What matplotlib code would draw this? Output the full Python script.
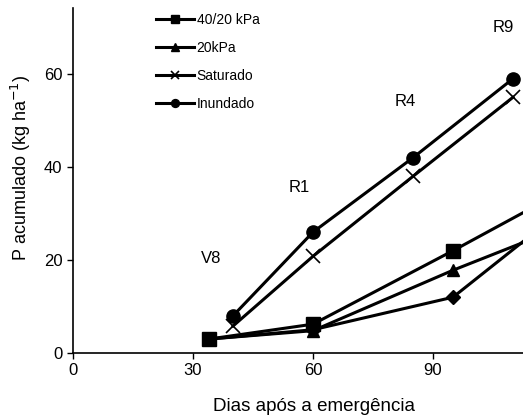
import matplotlib
matplotlib.use("Agg")
import matplotlib.pyplot as plt

plt.rcParams['font.family'] = ['Liberation Sans', 'DejaVu Sans']

# Data (days after emergence, accumulated P)
days_low = [34, 60, 95, 125]
p_4020 = [3.0, 6.2, 22.0, 36.0]
p_20 = [3.0, 4.8, 17.8, 28.0]
p_diamond = [3.0, 5.0, 12.0, 32.5]

days_high = [40, 60, 85, 110]
p_saturado = [5.8, 20.8, 38.0, 55.0]
p_inundado = [8.0, 26.0, 42.0, 59.0]

stage_labels = ["V8", "R1", "R4", "R9"]
stage_x = [34.5, 56.5, 83.0, 107.5]
stage_y = [20.3, 35.7, 54.0, 70.0]

xticks = [0, 30, 60, 90]
yticks = [0, 20, 40, 60]

fig = plt.figure(figsize=(5.23, 4.17), dpi=100)
ax = fig.add_axes([73/523, 64/417, 450/523, 345/417])

lw = 2.2
ax.plot(days_low, p_4020, color='black', lw=lw, marker='s', ms=10, label='40/20 kPa')
ax.plot(days_low, p_20, color='black', lw=lw, marker='^', ms=9, label='20kPa')
ax.plot(days_high, p_saturado, color='black', lw=lw, marker='x', ms=10, mew=1.2, label='Saturado')
ax.plot(days_high, p_inundado, color='black', lw=lw, marker='o', ms=9.5, label='Inundado')
ax.plot(days_low, p_diamond, color='black', lw=lw, marker='D', ms=7, label='_nolegend_')

for t, x, y in zip(stage_labels, stage_x, stage_y):
    ax.text(x, y, t, fontsize=12, ha='center', va='center')

ax.set_xlim(0, 112.5)
ax.set_ylim(0, 74.2)
ax.set_xticks(xticks)
ax.set_yticks(yticks)
ax.tick_params(axis='both', direction='out', length=4, width=1, labelsize=12, colors='black')
ax.spines['top'].set_visible(False)
ax.spines['right'].set_visible(False)
for s in ['left', 'bottom']:
    ax.spines[s].set_linewidth(1.2)

ax.set_xlabel('Dias após a emergência', fontsize=13.5)
ax.set_ylabel('P acumulado (kg ha$^{-1}$)', fontsize=13)
ax.xaxis.set_label_coords(0.536, -0.130)
ax.yaxis.set_label_coords(-0.088, 0.536)

leg = ax.legend(loc='upper left', bbox_to_anchor=(0.17, 1.006), frameon=False, fontsize=10,
                handlelength=2.7, handletextpad=0.2, labelspacing=1.0, borderpad=0, markerscale=0.6)

fig.savefig('out.png', dpi=100)
